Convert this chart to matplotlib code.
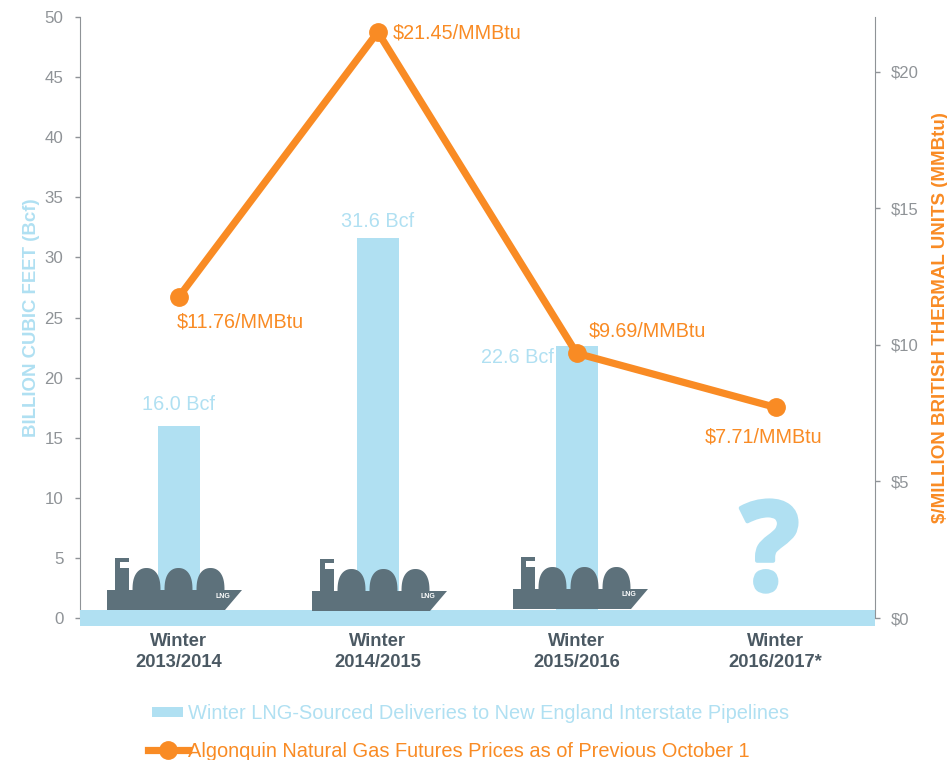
import matplotlib
matplotlib.use('Agg')
import matplotlib.pyplot as plt
from matplotlib.patches import Polygon, Rectangle, Patch
from matplotlib.lines import Line2D
from matplotlib.legend_handler import HandlerPatch
from matplotlib.transforms import Affine2D
import matplotlib.patheffects as pe
import numpy as np

plt.rcParams['font.family'] = ['Liberation Sans', 'DejaVu Sans']

# Data
winters = ['Winter\n2013/2014', 'Winter\n2014/2015', 'Winter\n2015/2016', 'Winter\n2016/2017*']
lng_bcf = [16.0, 31.6, 22.6]
prices = [11.76, 21.45, 9.69, 7.71]
bcf_ticks = [0, 5, 10, 15, 20, 25, 30, 35, 40, 45, 50]
price_ticks = [0, 5, 10, 15, 20]

LIGHT_BLUE = '#b0e0f2'
ORANGE = '#f98b24'
GREY = '#8f9397'
DARK = '#4b5963'
SHIP = '#5d717b'

W, H = 947, 760
fig = plt.figure(figsize=(W / 100, H / 100), dpi=100)
left, right, top, bottom = 79.5, 875, 17, 618
ax = fig.add_axes([left / W, 1 - bottom / H, (right - left) / W, (bottom - top) / H])
ax2 = ax.twinx()
x = np.arange(len(winters))

# Bars
ax.bar(x[:len(lng_bcf)], lng_bcf, width=0.21, color=LIGHT_BLUE, zorder=2)
ax.set_xlim(-0.5, 3.5)
ax.set_ylim(0, 50)
ax.set_yticks(bcf_ticks)
ax.set_xticks(x)
ax.set_xticklabels(winters, fontsize=13.2, fontweight='bold', color=DARK, linespacing=1.3)
ax.tick_params(axis='x', length=0, pad=11)
ax.tick_params(axis='y', colors=GREY, labelsize=12.2, length=3.6, width=1, pad=8)
ax.set_ylabel('BILLION CUBIC FEET (Bcf)', color=LIGHT_BLUE, fontsize=13.4, fontweight='bold', va='center')
ax.yaxis.set_label_coords((31 - left) / (right - left), 0.5)

for side in ['top', 'right', 'bottom']:
    ax.spines[side].set_visible(False)
ax.spines['left'].set_color(GREY)

bar_offsets = [(0, 12), (0, 7), (-59, -2)]
for xi, v, off in zip(x, lng_bcf, bar_offsets):
    ax.annotate(f'{v:.1f} Bcf', (xi, v), xytext=off, textcoords='offset pixels', ha='center',
                va='bottom' if off[1] > 0 else 'top', fontsize=14.3, color=LIGHT_BLUE, zorder=3)

# Price line on the right axis
ax2.plot(x, prices, color=ORANGE, lw=5.2, marker='o', ms=12.5, zorder=5, solid_capstyle='round')
ax2.set_ylim(0, 22)
ax2.set_yticks(price_ticks)
ax2.set_yticklabels([f'${p}' for p in price_ticks])
ax2.tick_params(axis='y', colors=GREY, labelsize=12, length=3.6, width=1, pad=8)
ax2.set_ylabel('$/MILLION BRITISH THERMAL UNITS (MMBtu)', color=ORANGE, fontsize=13.5, fontweight='bold', va='center')
ax2.yaxis.set_label_coords((940 - left) / (right - left), 0.5)
for side in ['top', 'left', 'bottom']:
    ax2.spines[side].set_visible(False)
ax2.spines['right'].set_color(GREY)

price_offsets = [(-2, -25), (15, -1), (12, 22), (-71, -30)]
for xi, p, off in zip(x, prices, price_offsets):
    ax2.annotate(f'${p:.2f}/MMBtu', (xi, p), xytext=off, textcoords='offset pixels', ha='left',
                 va='center', fontsize=14.2, color=ORANGE, zorder=6)

# Pixel space overlay for the water band and the ship drawings
px = Affine2D().scale(1, -1).translate(0, H)
ax2.add_patch(Rectangle((80, 610), 795, 16, color=LIGHT_BLUE, transform=px, clip_on=False, zorder=1, lw=0))


def draw_ship(dx, dy):
    hull = [(107, 590), (242, 590), (225, 610), (107, 610)]
    funnel = [(115, 558), (129, 558), (129, 562), (120, 562), (120, 568), (129, 568), (129, 590), (115, 590)]
    for pts in (hull, funnel):
        ax2.add_patch(Polygon([(a + dx, b + dy) for a, b in pts], closed=True, color=SHIP, lw=0,
                              transform=px, clip_on=False, zorder=3))
    for cx in (146.5, 178.5, 210.5):
        th = np.linspace(np.pi, 0, 40)
        # slightly squared arch rather than a plain half ellipse
        dome_x = cx + dx + 14 * np.sign(np.cos(th)) * np.abs(np.cos(th)) ** 0.92
        dome_y = 591 + dy - 23 * np.sin(th) ** 0.75
        ax2.add_patch(Polygon(np.column_stack([dome_x, dome_y]), closed=True, color=SHIP, lw=0,
                              transform=px, clip_on=False, zorder=3))
    fig.text((223 + dx) / W, 1 - (596 + dy) / H, 'LNG', color='white', fontsize=5, fontweight='bold',
             ha='center', va='center', zorder=10)


for dx, dy in [(0, 0), (205, 1), (406, -1)]:
    draw_ship(dx, dy)

fig.text(770 / W, 1 - 558 / H, '?', family='Open Sans', fontweight='bold', fontsize=89, color=LIGHT_BLUE,
         ha='center', va='center', zorder=1,
         path_effects=[pe.withStroke(linewidth=3, foreground=LIGHT_BLUE)])


# Legend, swatch is shorter than the line handle
def short_swatch(legend, orig_handle, xdescent, ydescent, width, height, fontsize):
    return Rectangle((xdescent + 3, ydescent + height / 2 - 3.6), 22, 7.2)


handles = [Patch(color=LIGHT_BLUE, lw=0),
           Line2D([0], [0], color=ORANGE, lw=5.2, marker='o', ms=12.5)]
labels = ['Winter LNG-Sourced Deliveries to New England Interstate Pipelines',
          'Algonquin Natural Gas Futures Prices as of Previous October 1']
leg = fig.legend(handles, labels, loc='upper left', bbox_to_anchor=(148 / W, 1 - 704 / H), frameon=False,
                 fontsize=14.4, handlelength=2.0, handleheight=0.7, handletextpad=0.0, labelspacing=0.96,
                 borderpad=0, borderaxespad=0,
                 handler_map={Patch: HandlerPatch(patch_func=short_swatch)})
for t, c in zip(leg.get_texts(), [LIGHT_BLUE, ORANGE]):
    t.set_color(c)

fig.savefig('out.png', dpi=100)
